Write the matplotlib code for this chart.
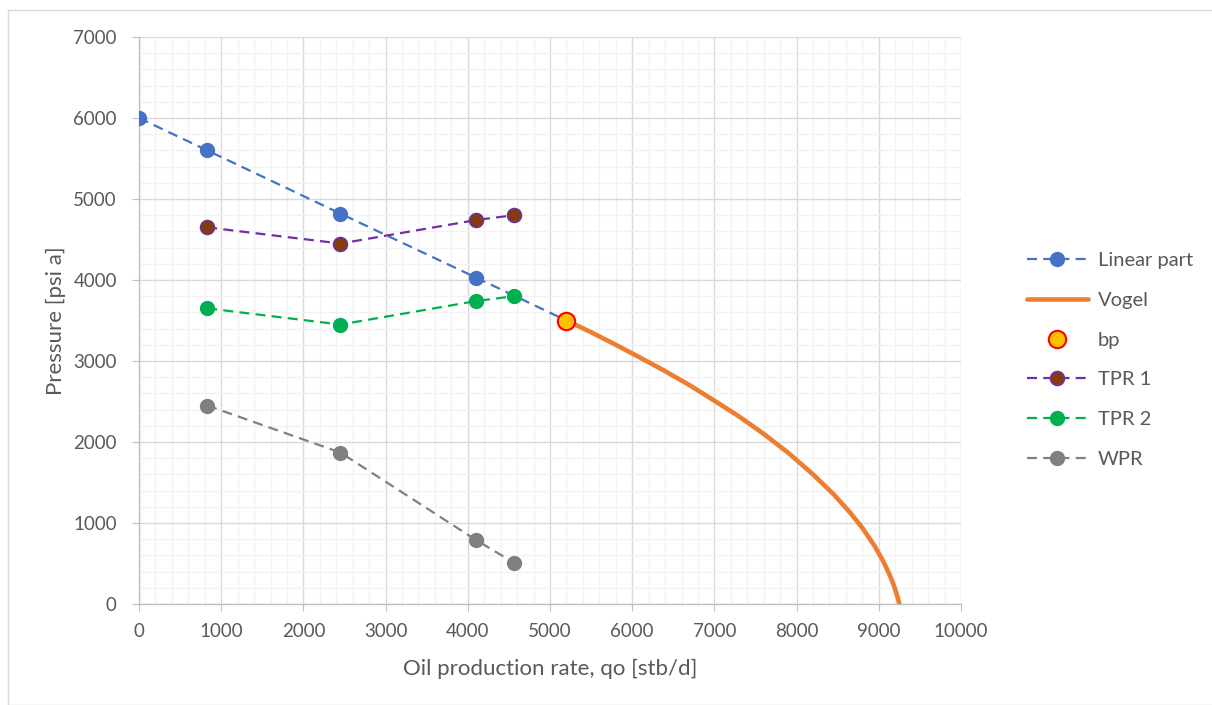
import matplotlib.pyplot as plt
from matplotlib.patches import Rectangle
from matplotlib.ticker import MultipleLocator

plt.rcParams['font.family'] = ['Lato', 'DejaVu Sans']

# data
linear_q = [0, 830, 2450, 4100, 5200]
linear_p = [6000, 5600, 4820, 4030, 3500]

vogel_q = [5200, 5500, 5800, 6100, 6400, 6700, 7000, 7300, 7600, 7900, 8200,
           8450, 8650, 8800, 8950, 9050, 9130, 9190, 9230, 9250]
vogel_p = [3500, 3355, 3200, 3040, 2875, 2700, 2510, 2315, 2100, 1865, 1600,
           1355, 1130, 940, 715, 535, 365, 210, 80, 0]

bp_q = [5200]
bp_p = [3500]

tpr_q = [830, 2450, 4100, 4560]
tpr1_p = [4650, 4450, 4740, 4800]
tpr2_p = [3650, 3450, 3740, 3800]
wpr_p = [2450, 1870, 790, 510]

W, H = 1212, 705
fig = plt.figure(figsize=(W / 100, H / 100), dpi=100)
ax = fig.add_axes([139 / W, 1 - 604 / H, (961 - 139) / W, (604 - 37) / H])

# chart border
fig.patches.append(Rectangle((8 / W, 0), 1.0, 1 - 10 / H, transform=fig.transFigure,
                             fill=False, edgecolor='#D9D9D9', linewidth=1.0))

txt = '#595959'
dash = (4.5, 2.8)

ax.plot(linear_q, linear_p, linestyle='--', dashes=dash, color='#4472C4', lw=1.6,
        marker='o', markersize=10, markerfacecolor='#4472C4', markeredgecolor='#4472C4',
        markevery=[0, 1, 2, 3], label='Linear part', zorder=3)
ax.plot(vogel_q, vogel_p, color='#ED7D31', lw=3.3, label='Vogel', zorder=3,
        solid_capstyle='round', solid_joinstyle='round')
ax.plot(bp_q, bp_p, linestyle='none', marker='o', markersize=12.5,
        markerfacecolor='#FFC000', markeredgecolor='#FF0000', markeredgewidth=1.5,
        label='bp', zorder=5)
ax.plot(tpr_q, tpr1_p, linestyle='--', dashes=dash, color='#7030A0', lw=1.6,
        marker='o', markersize=10, markerfacecolor='#843C0C', markeredgecolor='#7030A0',
        markeredgewidth=1.2, label='TPR 1', zorder=4)
ax.plot(tpr_q, tpr2_p, linestyle='--', dashes=dash, color='#00B050', lw=1.6,
        marker='o', markersize=10, markerfacecolor='#00B050', markeredgecolor='#00B050',
        label='TPR 2', zorder=4)
ax.plot(tpr_q, wpr_p, linestyle='--', dashes=dash, color='#808080', lw=1.6,
        marker='o', markersize=10, markerfacecolor='#808080', markeredgecolor='#808080',
        label='WPR', zorder=4)

ax.set_xlim(0, 10000)
ax.set_ylim(0, 7000)
ax.xaxis.set_major_locator(MultipleLocator(1000))
ax.yaxis.set_major_locator(MultipleLocator(1000))
ax.xaxis.set_minor_locator(MultipleLocator(200))
ax.yaxis.set_minor_locator(MultipleLocator(200))
ax.grid(which='major', color='#D9D9D9', lw=1.0)
ax.grid(which='minor', color='#F2F2F2', lw=1.0)
ax.set_axisbelow(True)

for s in ['top', 'right']:
    ax.spines[s].set_visible(False)
for s in ['left', 'bottom']:
    ax.spines[s].set_color('#BFBFBF')
    ax.spines[s].set_linewidth(1.0)
ax.tick_params(which='major', length=5, color='#BFBFBF', labelsize=13.5, labelcolor=txt)
ax.tick_params(axis='x', which='major', pad=9)
ax.tick_params(axis='y', which='major', pad=11)
ax.tick_params(which='minor', length=0)

ax.set_xlabel('Oil production rate, qo [stb/d]', fontsize=16, color=txt, labelpad=13)
ax.set_ylabel('Pressure [psi a]', fontsize=16, color=txt, labelpad=5)

leg = ax.legend(loc='center left', bbox_to_anchor=(1009 / W, 1 - 360 / H),
                bbox_transform=fig.transFigure, frameon=False, fontsize=14.5,
                handlelength=3.0, handletextpad=0.5, labelspacing=1.12)
for t in leg.get_texts():
    t.set_color(txt)

fig.savefig('out.png', dpi=100)
